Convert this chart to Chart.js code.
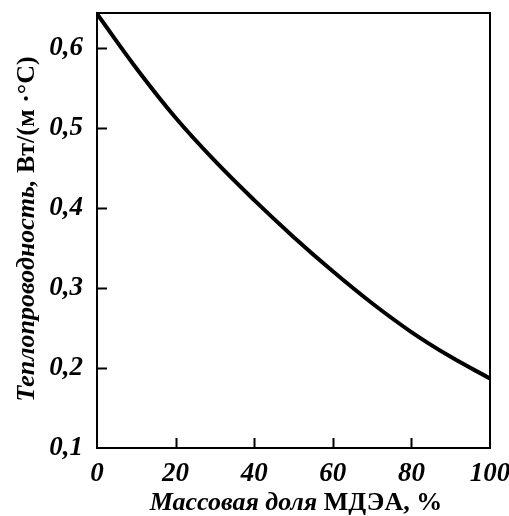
<!DOCTYPE html>
<html>
<head>
<meta charset="utf-8">
<script src="https://cdn.jsdelivr.net/npm/chart.js@4.4.0/dist/chart.umd.min.js"></script>
<style>
html,body{margin:0;padding:0;background:#fff;}
#wrap{width:509px;height:516px;position:relative;}
</style>
</head>
<body>
<div id="wrap"><canvas id="c" width="509" height="516"></canvas></div>
<script>
// Data
const massFraction = [0, 10, 20, 30, 40, 50, 60, 70, 80, 90, 100];
const conductivity = [0.643, 0.575, 0.513, 0.459, 0.410, 0.364, 0.321, 0.281, 0.245, 0.214, 0.187];
const xTickValues = [0, 20, 40, 60, 80, 100];
const yTickValues = [0.1, 0.2, 0.3, 0.4, 0.5, 0.6];
const xTitleItalic = 'Массовая доля ';
const xTitleUpright = 'МДЭА, %';
const yTitleItalic = 'Теплопроводность, ';
const yTitleUpright = 'Вт/(м ·°С)';

const FONT = '"Liberation Serif", "Times New Roman", serif';

const framePlugin = {
  id: 'frameAndTicks',
  afterDraw(chart) {
    const ctx = chart.ctx;
    const a = chart.chartArea;
    const xs = chart.scales.x, ys = chart.scales.y;
    ctx.save();
    ctx.strokeStyle = '#000';
    ctx.lineWidth = 2;
    ctx.strokeRect(a.left, a.top, a.right - a.left, a.bottom - a.top);
    ctx.beginPath();
    xTickValues.forEach(v => {
      if (v <= xs.min || v >= xs.max) return;
      const px = Math.round(xs.getPixelForValue(v)) + 0.5;
      ctx.moveTo(px, a.bottom);
      ctx.lineTo(px, a.bottom - 10);
    });
    yTickValues.forEach(v => {
      if (v <= ys.min || v >= ys.max) return;
      const py = Math.round(ys.getPixelForValue(v)) + 0.5;
      ctx.moveTo(a.left, py);
      ctx.lineTo(a.left + 10, py);
    });
    ctx.stroke();

    // axis titles with mixed styles
    ctx.fillStyle = '#000';
    ctx.textBaseline = 'alphabetic';
    const fi = 'italic bold 26px ' + FONT;
    const fu = 'bold 26px ' + FONT;
    // x title
    ctx.font = fi; const w1 = ctx.measureText(xTitleItalic).width;
    ctx.font = fu; const w2 = ctx.measureText(xTitleUpright).width;
    let x0 = 296 - (w1 + w2) / 2;
    ctx.textAlign = 'left';
    ctx.font = fi; ctx.fillText(xTitleItalic, x0, 510);
    ctx.font = fu; ctx.fillText(xTitleUpright, x0 + w1, 510);
    // y title
    ctx.save();
    ctx.translate(34, 229);
    ctx.rotate(-Math.PI / 2);
    ctx.font = fi; const v1 = ctx.measureText(yTitleItalic).width;
    ctx.font = fu; const v2 = ctx.measureText(yTitleUpright).width;
    let y0 = -(v1 + v2) / 2;
    ctx.font = fi; ctx.fillText(yTitleItalic, y0, 0);
    ctx.font = fu; ctx.fillText(yTitleUpright, y0 + v1, 0);
    ctx.restore();
    ctx.restore();
  }
};

function zeroPad(s) { s.paddingTop = 0; s.paddingBottom = 0; s.paddingLeft = 0; s.paddingRight = 0; }

new Chart(document.getElementById('c'), {
  type: 'line',
  data: {
    datasets: [{
      data: massFraction.map((x, i) => ({x: x, y: conductivity[i]})),
      borderColor: '#000',
      borderWidth: 4,
      pointRadius: 0,
      fill: false,
      tension: 0.4
    }]
  },
  options: {
    responsive: false,
    animation: false,
    devicePixelRatio: 1,
    layout: { padding: { top: 13, right: 19, left: 0, bottom: 0 } },
    plugins: { legend: { display: false }, tooltip: { enabled: false } },
    scales: {
      x: {
        type: 'linear',
        min: 0, max: 100,
        afterBuildTicks: s => { s.ticks = xTickValues.map(v => ({value: v})); },
        afterFit: s => { s.height = 68; zeroPad(s); },
        grid: { display: false, drawTicks: false },
        border: { display: false },
        ticks: {
          padding: 10,
          color: '#000',
          maxRotation: 0,
          font: { family: FONT, size: 27, style: 'italic', weight: 'bold' },
          callback: v => String(v)
        }
      },
      y: {
        type: 'linear',
        min: 0.1, max: 0.644,
        afterBuildTicks: s => { s.ticks = yTickValues.map(v => ({value: v})); },
        afterFit: s => { s.width = 97; zeroPad(s); },
        grid: { display: false, drawTicks: false },
        border: { display: false },
        ticks: {
          padding: 14,
          color: '#000',
          font: { family: FONT, size: 27, style: 'italic', weight: 'bold' },
          callback: v => v.toFixed(1).replace('.', ',')
        }
      }
    }
  },
  plugins: [framePlugin]
});
</script>
</body>
</html>
